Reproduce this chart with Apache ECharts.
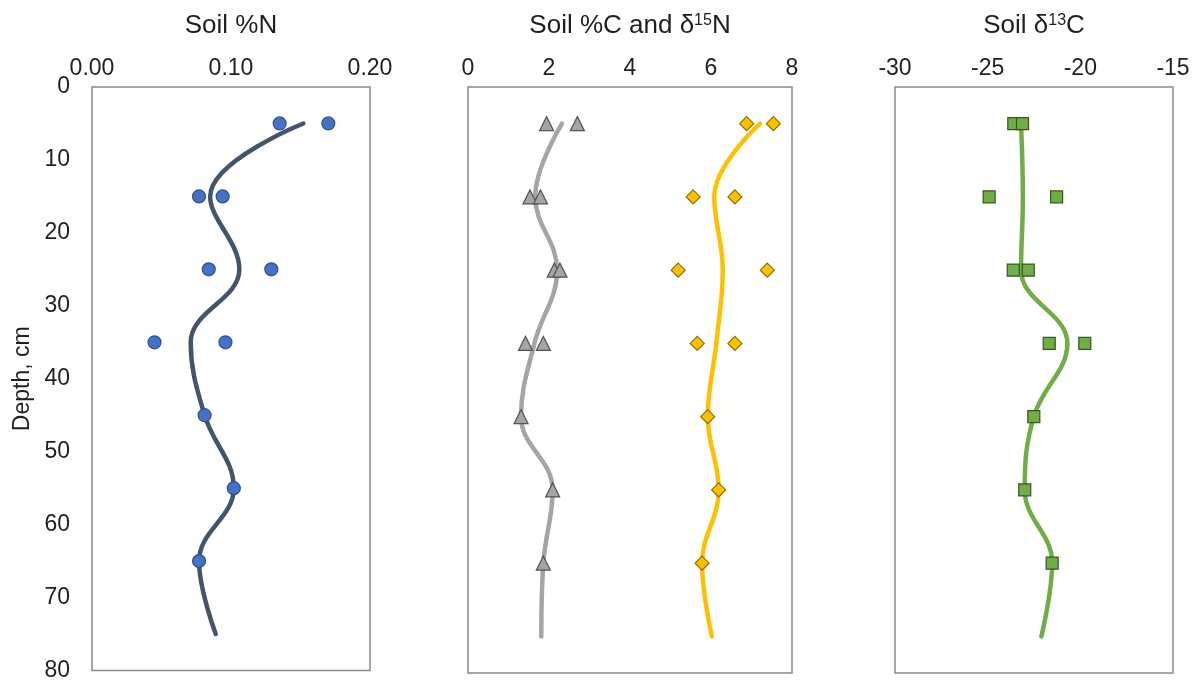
<!DOCTYPE html>
<html>
<head>
<meta charset="utf-8">
<script src="https://cdn.jsdelivr.net/npm/echarts@6/dist/echarts.min.js"></script>
<style>
html,body{margin:0;padding:0;background:#fff;}
#chart{width:1193px;height:682px;}
</style>
</head>
<body>
<div id="chart"></div>
<script>
// ---- data ----
const depths = [5, 15, 25, 35, 45, 55, 65];
const lineDepths = [5, 15, 25, 35, 45, 55, 65, 75];
const depthTicks = [0, 10, 20, 30, 40, 50, 60, 70, 80];

// Soil %N (two replicates per depth; single point below 40 cm)
const nPctA = [0.135, 0.077, 0.084, 0.045, 0.081, 0.102, 0.077];
const nPctB = [0.170, 0.094, 0.129, 0.096, null, null, null];
const nPctLine = [0.152, 0.085, 0.106, 0.071, 0.081, 0.102, 0.077, 0.089];

// Soil %C
const cPctA = [1.94, 1.53, 2.13, 1.42, 1.31, 2.09, 1.86];
const cPctB = [2.70, 1.79, 2.27, 1.86, null, null, null];
const cPctLine = [2.32, 1.66, 2.20, 1.64, 1.31, 2.09, 1.86, 1.81];

// Soil d15N
const d15NA = [6.88, 5.56, 5.19, 5.66, 5.92, 6.19, 5.78];
const d15NB = [7.54, 6.59, 7.39, 6.59, null, null, null];
const d15NLine = [7.21, 6.08, 6.29, 6.13, 5.92, 6.19, 5.78, 6.02];

// Soil d13C
const d13CA = [-23.59, -24.92, -23.62, -21.68, -22.51, -23.00, -21.52];
const d13CB = [-23.12, -21.28, -22.81, -19.76, null, null, null];
const d13CLine = [-23.2, -23.1, -23.2, -20.7, -22.51, -23.0, -21.52, -22.1];

// ---- helpers ----
function pairs(xs, ys) {
  const out = [];
  xs.forEach((x, i) => { if (x !== null && x !== undefined) out.push([x, ys[i]]); });
  return out;
}

const FONT = 'Liberation Sans, Arial, sans-serif';
const TXT = '#1f1f1f';
const TICK_FS = 23;
const TITLE_FS = 26;

const grids = [
  { left: 92, top: 87, width: 278, height: 586 },
  { left: 468, top: 87, width: 324, height: 586 },
  { left: 895, top: 87, width: 278, height: 586 }
].map(g => Object.assign(g, { show: true, borderColor: '#8a8a8a', borderWidth: 1.5, backgroundColor: 'transparent' }));

const titleRich = {
  t: { fontSize: TITLE_FS, fontFamily: FONT, color: TXT },
  sup: { fontSize: 16, fontFamily: FONT, color: TXT, padding: [0, 0, 10, 0] }
};

function xAxis(idx, min, max, interval, name, fmt) {
  return {
    gridIndex: idx, type: 'value', position: 'top', min, max, interval,
    name, nameLocation: 'middle', nameGap: 48,
    nameTextStyle: { rich: titleRich },
    axisLine: { show: false }, axisTick: { show: false }, splitLine: { show: false },
    axisLabel: { fontSize: TICK_FS, fontFamily: FONT, color: TXT, margin: 7, formatter: fmt }
  };
}
function yAxis(idx, showLabels) {
  return {
    gridIndex: idx, type: 'value', inverse: true, min: 0, max: 80, interval: 10,
    name: showLabels ? 'Depth, cm' : '', nameLocation: 'middle', nameGap: 58,
    nameTextStyle: { fontSize: 23, fontFamily: FONT, color: TXT },
    axisLine: { show: false }, axisTick: { show: false }, splitLine: { show: false },
    axisLabel: { show: showLabels, fontSize: TICK_FS, fontFamily: FONT, color: TXT, margin: 22 }
  };
}

function lineSeries(idx, xs, color) {
  return {
    type: 'line', xAxisIndex: idx, yAxisIndex: idx, data: pairs(xs, lineDepths),
    smooth: 0.4, showSymbol: false, symbol: 'none', z: 2,
    lineStyle: { color, width: 4.5, cap: 'round' }
  };
}
function markSeries(idx, xs, symbol, size, fill, border) {
  return {
    type: 'scatter', xAxisIndex: idx, yAxisIndex: idx, data: pairs(xs, depths),
    symbol, symbolSize: size, z: 3,
    itemStyle: { color: fill, borderColor: border, borderWidth: 1.2, opacity: 1 }
  };
}

const option = {
  animation: false,
  backgroundColor: '#ffffff',
  textStyle: { fontFamily: FONT },
  grid: grids,
  xAxis: [
    xAxis(0, 0, 0.2, 0.1, '{t|Soil %N}', v => v.toFixed(2)),
    xAxis(1, 0, 8, 2, '{t|Soil %C and δ}{sup|15}{t|N}'),
    xAxis(2, -30, -15, 5, '{t|Soil δ}{sup|13}{t|C}')
  ],
  yAxis: [yAxis(0, true), yAxis(1, false), yAxis(2, false)],
  series: [
    lineSeries(0, nPctLine, '#44546A'),
    markSeries(0, nPctA, 'circle', 13, '#4472C4', '#2F4F8F'),
    markSeries(0, nPctB, 'circle', 13, '#4472C4', '#2F4F8F'),

    lineSeries(1, cPctLine, '#A5A5A5'),
    markSeries(1, cPctA, 'triangle', 14, '#A5A5A5', '#555555'),
    markSeries(1, cPctB, 'triangle', 14, '#A5A5A5', '#555555'),

    lineSeries(1, d15NLine, '#FFC000'),
    markSeries(1, d15NA, 'diamond', 14, '#FFC000', '#8C6D00'),
    markSeries(1, d15NB, 'diamond', 14, '#FFC000', '#8C6D00'),

    lineSeries(2, d13CLine, '#70AD47'),
    markSeries(2, d13CA, 'rect', 12, '#70AD47', '#375623'),
    markSeries(2, d13CB, 'rect', 12, '#70AD47', '#375623')
  ]
};

const chart = echarts.init(document.getElementById('chart'), null, { renderer: 'canvas' });
chart.setOption(option);
</script>
</body>
</html>
